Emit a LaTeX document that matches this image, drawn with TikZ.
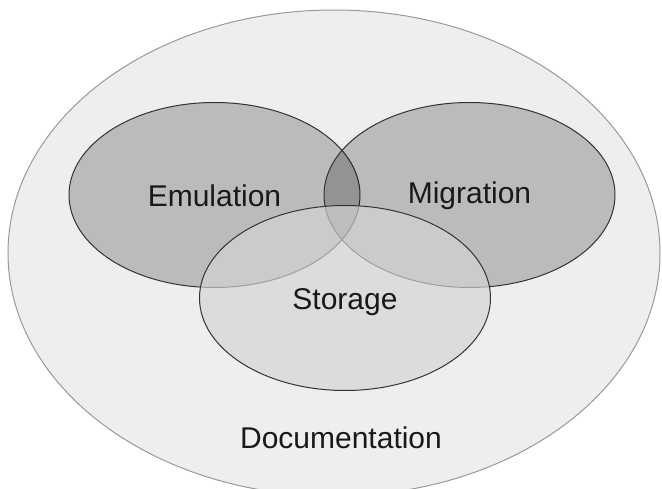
\documentclass[tikz,border=0pt]{standalone}
\usepackage{fontspec}
\setmainfont{Liberation Sans}
\usepackage{xcolor}
\usetikzlibrary{shapes.geometric}
\definecolor{outerfill}{HTML}{EEEEEE}
\definecolor{outerline}{HTML}{999999}
\definecolor{setline}{HTML}{333333}
\definecolor{storefill}{HTML}{D4D4D4}

\begin{document}
\begin{tikzpicture}[x=1pt, y=-1pt,
    blob/.style={draw=setline, ellipse, line width=1pt, inner sep=0pt, minimum width=291pt, minimum height=185pt},
    topset/.style={blob, fill=black, fill opacity=0.21},
    lowset/.style={blob, fill=storefill, fill opacity=0.67},
    lbl/.style={font=\fontsize{30}{36}\selectfont, text=black!90},
]
    \useasboundingbox (0,0) rectangle (662,489);

    % Outer set
    \node[ellipse, draw=outerline, fill=outerfill, line width=1pt, inner sep=0pt,
          minimum width=652pt, minimum height=486pt] (doc) at (334,253) {};

    % Three inner sets
    \node[topset] (emu) at (214.5,195) {};
    \node[topset] (mig) at (469.5,195) {};
    \node[lowset] (sto) at (345,298) {};

    % Labels
    \node[lbl] (emu_t) at ([yshift=-1pt]emu.center) {Emulation};
    \node[lbl] (mig_t) at ([yshift=-1pt]mig.center) {Migration};
    \node[lbl] (sto_t) at ([yshift=-4pt]sto.center) {Storage};
    \node[lbl] (doc_t) at (341,438) {Documentation};
\end{tikzpicture}
\end{document}
